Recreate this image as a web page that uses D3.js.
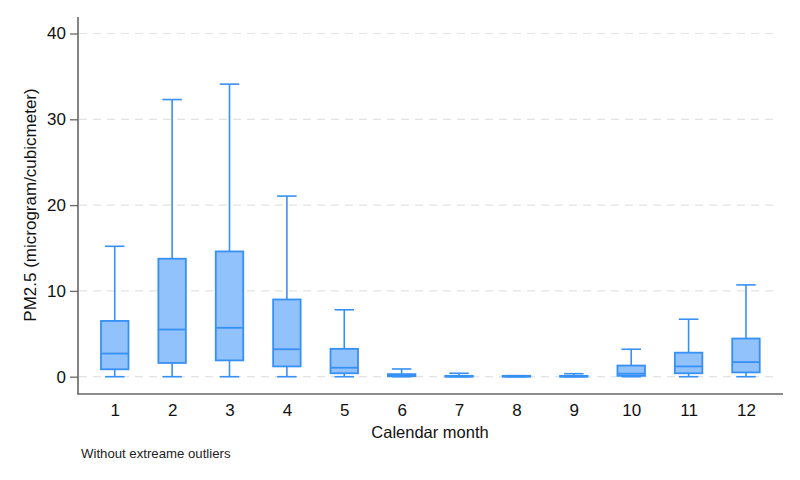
<!DOCTYPE html>
<html><head><meta charset="utf-8">
<script src="https://cdn.jsdelivr.net/npm/d3@7"></script>
<style>body{margin:0;background:#fff}svg{display:block;font-family:Arial,"Liberation Sans",sans-serif}</style>
</head><body>
<svg id="c" width="800" height="480"></svg>
<script>
const months = [1,2,3,4,5,6,7,8,9,10,11,12];
const whiskerLow = [0,0,0,0,0,0,0,0,0,0,0,0];
const q1 =        [0.86,1.6,1.9,1.2,0.4,0.05,0.0,0.0,0.0,0.1,0.4,0.5];
const median =    [2.7,5.5,5.7,3.2,1.05,0.12,0.05,0.05,0.05,0.35,1.2,1.7];
const q3 =        [6.5,13.75,14.6,9.0,3.25,0.3,0.1,0.1,0.1,1.3,2.8,4.45];
const whiskerHigh=[15.2,32.3,34.1,21.05,7.8,0.9,0.4,0.12,0.35,3.2,6.7,10.7];
const yTicks = [0,10,20,30,40];

const svg = d3.select("#c");
const x = d3.scaleLinear().domain([0.36,12.64]).range([78,782.7]);
const y = d3.scaleLinear().domain([0,40]).range([376.7,33.5]);
const fill = "#92c2fb", stroke = "#3790f5";

// gridlines
svg.append("g").selectAll("line").data(yTicks).join("line")
  .attr("x1",79).attr("x2",778).attr("y1",d=>y(d)).attr("y2",d=>y(d))
  .attr("stroke","#e3e3e3").attr("stroke-width",1.2).attr("stroke-dasharray","8,6");

// y axis
const ya = svg.append("g").attr("transform","translate(78,0)")
  .call(d3.axisLeft(y).tickValues(yTicks).tickSize(8).tickPadding(4));
ya.select(".domain").remove();
ya.selectAll(".tick line").attr("stroke","#666").attr("stroke-width",1.3);
ya.selectAll(".tick text").attr("font-size",17).attr("fill","#111").attr("font-family","Arial,'Liberation Sans',sans-serif");
svg.append("line").attr("x1",78).attr("x2",78).attr("y1",17).attr("y2",394).attr("stroke","#666").attr("stroke-width",1.6);

// x axis
const xa = svg.append("g").attr("transform","translate(0,394)")
  .call(d3.axisBottom(x).tickValues(months).tickSize(0).tickPadding(10).tickFormat(d3.format("d")));
xa.select(".domain").remove();
xa.selectAll(".tick text").attr("font-size",17).attr("fill","#111").attr("font-family","Arial,'Liberation Sans',sans-serif");
svg.append("line").attr("x1",77.2).attr("x2",783).attr("y1",394).attr("y2",394).attr("stroke","#666").attr("stroke-width",1.6);

// boxes
const data = months.map((m,i)=>({m,lo:whiskerLow[i],q1:q1[i],med:median[i],q3:q3[i],hi:whiskerHigh[i]}));
const bw = 27.5, cw = 19.5;
const g = svg.append("g").selectAll("g").data(data).join("g");
g.append("line").attr("x1",d=>x(d.m)).attr("x2",d=>x(d.m)).attr("y1",d=>y(d.hi)).attr("y2",d=>y(d.q3)).attr("stroke",stroke).attr("stroke-width",1.6);
g.append("line").attr("x1",d=>x(d.m)).attr("x2",d=>x(d.m)).attr("y1",d=>y(d.q1)).attr("y2",d=>y(d.lo)).attr("stroke",stroke).attr("stroke-width",1.6);
g.append("line").attr("x1",d=>x(d.m)-cw/2).attr("x2",d=>x(d.m)+cw/2).attr("y1",d=>y(d.hi)).attr("y2",d=>y(d.hi)).attr("stroke",stroke).attr("stroke-width",1.6);
g.append("line").attr("x1",d=>x(d.m)-cw/2).attr("x2",d=>x(d.m)+cw/2).attr("y1",d=>y(d.lo)).attr("y2",d=>y(d.lo)).attr("stroke",stroke).attr("stroke-width",1.6);
g.append("rect").attr("x",d=>x(d.m)-bw/2).attr("width",bw)
  .attr("y",d=>y(d.q3)).attr("height",d=>Math.max(0.5,y(d.q1)-y(d.q3)))
  .attr("fill",fill).attr("stroke",stroke).attr("stroke-width",1.8);
g.append("line").attr("x1",d=>x(d.m)-bw/2).attr("x2",d=>x(d.m)+bw/2).attr("y1",d=>y(d.med)).attr("y2",d=>y(d.med)).attr("stroke",stroke).attr("stroke-width",1.8);

// labels
svg.append("text").attr("transform","translate(36,205) rotate(-90)").attr("text-anchor","middle")
  .attr("font-size",17).attr("fill","#111").text("PM2.5 (microgram/cubicmeter)");
svg.append("text").attr("x",430).attr("y",438).attr("text-anchor","middle")
  .attr("font-size",16.5).attr("fill","#111").text("Calendar month");
svg.append("text").attr("x",81).attr("y",458)
  .attr("font-size",13.2).attr("fill","#222").text("Without extreame outliers");
</script>
</body></html>
